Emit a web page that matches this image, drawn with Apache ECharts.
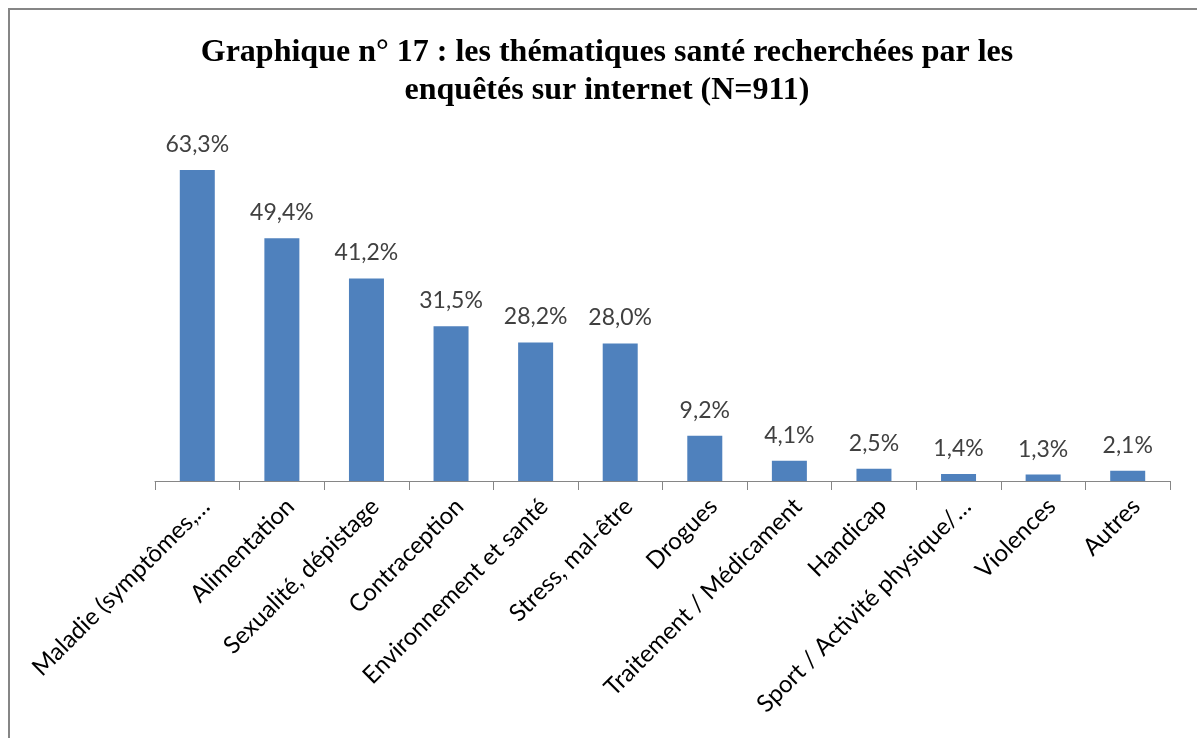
<!DOCTYPE html>
<html>
<head>
<meta charset="utf-8">
<script src="https://cdn.jsdelivr.net/npm/echarts@6/dist/echarts.min.js"></script>
<style>
  html, body { margin: 0; padding: 0; background: #fff; }
  #chart { width: 1197px; height: 738px; }
</style>
</head>
<body>
<div id="chart"></div>
<script>
// thématiques santé recherchées
const categories = [
  "Maladie (symptômes,…",
  "Alimentation",
  "Sexualité, dépistage",
  "Contraception",
  "Environnement et santé",
  "Stress, mal-être",
  "Drogues",
  "Traitement / Médicament",
  "Handicap",
  "Sport / Activité physique/…",
  "Violences",
  "Autres"
];
const values = [63.3, 49.4, 41.2, 31.5, 28.2, 28.0, 9.2, 4.1, 2.5, 1.4, 1.3, 2.1];

const chart = echarts.init(document.getElementById("chart"));
chart.setOption({
  animation: false,
  title: {
    text: "Graphique n° 17 : les thématiques santé recherchées par les\nenquêtés sur internet (N=911)",
    left: 602,
    textAlign: "center",
    top: 29,
    textStyle: {
      fontFamily: "Liberation Serif",
      fontWeight: "bold",
      fontSize: 32,
      lineHeight: 38,
      color: "#000"
    }
  },
  graphic: [
    {
      type: "rect",
      shape: { x: 9, y: 9, width: 1220, height: 760 },
      style: { fill: "none", stroke: "#868686", lineWidth: 2 }
    }
  ],
  grid: { left: 155, right: 27, top: 137, bottom: 257 },
  xAxis: {
    type: "category",
    data: categories,
    axisLine: { lineStyle: { color: "#868686", width: 1 } },
    axisTick: { show: true, length: 9, lineStyle: { color: "#868686" } },
    axisLabel: {
      rotate: 45,
      interval: 0,
      margin: 30,
      padding: [0, -12, 0, 0],
      fontFamily: "Lato",
      fontSize: 24,
      color: "#000"
    }
  },
  yAxis: {
    type: "value",
    min: 0,
    max: 70,
    show: false,
    splitLine: { show: false }
  },
  series: [
    {
      type: "bar",
      data: values,
      barWidth: 35,
      itemStyle: { color: "#4F81BD" },
      label: {
        show: true,
        position: "top",
        distance: 14,
        fontFamily: "Lato",
        fontSize: 23,
        color: "#404040",
        formatter: p => p.value.toFixed(1).replace(".", ",") + "%"
      }
    }
  ]
});
</script>
</body>
</html>
